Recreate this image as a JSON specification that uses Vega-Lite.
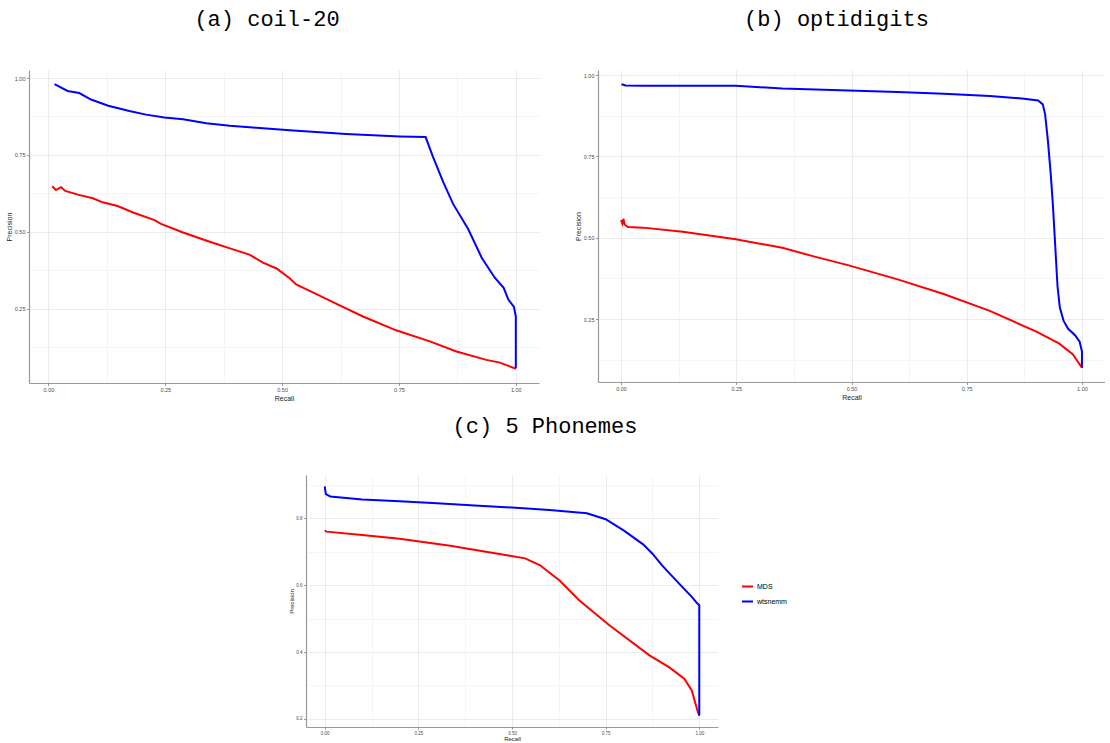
{
  "$schema": "https://vega.github.io/schema/vega-lite/v6.json",
  "background": "white",
  "padding": {"left": 5, "top": 8, "right": 0, "bottom": 0},
  "config": {
    "view": {"stroke": null},
    "title": {"font": "Liberation Mono", "fontSize": 22, "fontWeight": "normal", "color": "#000000", "offset": 39, "baseline": "alphabetic"},
    "axis": {
      "domainColor": "#9a9a9a", "domainWidth": 1.2, "tickColor": "#9a9a9a", "tickSize": 2.5,
      "labelPadding": 1.5, "labelFont": "Liberation Sans", "labelFontSize": 5.5, "labelColor": "#4d4d4d",
      "titleFont": "Liberation Sans", "titleFontSize": 7, "titleFontWeight": "normal", "titleColor": "#222222",
      "titlePadding": 2, "gridColor": "#ebebeb", "labelFlush": false, "labelOverlap": false
    }
  },
  "datasets": {
    "a": [
      {"method": "MDS", "recall": 0.008, "precision": 0.648},
      {"method": "MDS", "recall": 0.016, "precision": 0.636},
      {"method": "MDS", "recall": 0.027, "precision": 0.645},
      {"method": "MDS", "recall": 0.036, "precision": 0.633},
      {"method": "MDS", "recall": 0.063, "precision": 0.621},
      {"method": "MDS", "recall": 0.095, "precision": 0.609},
      {"method": "MDS", "recall": 0.116, "precision": 0.596},
      {"method": "MDS", "recall": 0.148, "precision": 0.584},
      {"method": "MDS", "recall": 0.181, "precision": 0.563},
      {"method": "MDS", "recall": 0.227, "precision": 0.538},
      {"method": "MDS", "recall": 0.241, "precision": 0.526},
      {"method": "MDS", "recall": 0.288, "precision": 0.498},
      {"method": "MDS", "recall": 0.345, "precision": 0.468},
      {"method": "MDS", "recall": 0.395, "precision": 0.443},
      {"method": "MDS", "recall": 0.430, "precision": 0.426},
      {"method": "MDS", "recall": 0.459, "precision": 0.400},
      {"method": "MDS", "recall": 0.488, "precision": 0.381},
      {"method": "MDS", "recall": 0.516, "precision": 0.349},
      {"method": "MDS", "recall": 0.530, "precision": 0.329},
      {"method": "MDS", "recall": 0.580, "precision": 0.293},
      {"method": "MDS", "recall": 0.612, "precision": 0.269},
      {"method": "MDS", "recall": 0.673, "precision": 0.225},
      {"method": "MDS", "recall": 0.744, "precision": 0.180},
      {"method": "MDS", "recall": 0.816, "precision": 0.144},
      {"method": "MDS", "recall": 0.873, "precision": 0.111},
      {"method": "MDS", "recall": 0.937, "precision": 0.084},
      {"method": "MDS", "recall": 0.966, "precision": 0.075},
      {"method": "MDS", "recall": 1.0, "precision": 0.055},
      {"method": "wtsnemm", "recall": 0.013, "precision": 0.980},
      {"method": "wtsnemm", "recall": 0.041, "precision": 0.958},
      {"method": "wtsnemm", "recall": 0.066, "precision": 0.951},
      {"method": "wtsnemm", "recall": 0.091, "precision": 0.930},
      {"method": "wtsnemm", "recall": 0.128, "precision": 0.910},
      {"method": "wtsnemm", "recall": 0.173, "precision": 0.893},
      {"method": "wtsnemm", "recall": 0.209, "precision": 0.881},
      {"method": "wtsnemm", "recall": 0.248, "precision": 0.872},
      {"method": "wtsnemm", "recall": 0.288, "precision": 0.866},
      {"method": "wtsnemm", "recall": 0.338, "precision": 0.853},
      {"method": "wtsnemm", "recall": 0.388, "precision": 0.845},
      {"method": "wtsnemm", "recall": 0.445, "precision": 0.838},
      {"method": "wtsnemm", "recall": 0.516, "precision": 0.830},
      {"method": "wtsnemm", "recall": 0.637, "precision": 0.818},
      {"method": "wtsnemm", "recall": 0.752, "precision": 0.810},
      {"method": "wtsnemm", "recall": 0.807, "precision": 0.808},
      {"method": "wtsnemm", "recall": 0.823, "precision": 0.743},
      {"method": "wtsnemm", "recall": 0.845, "precision": 0.661},
      {"method": "wtsnemm", "recall": 0.866, "precision": 0.590},
      {"method": "wtsnemm", "recall": 0.898, "precision": 0.509},
      {"method": "wtsnemm", "recall": 0.927, "precision": 0.416},
      {"method": "wtsnemm", "recall": 0.955, "precision": 0.351},
      {"method": "wtsnemm", "recall": 0.974, "precision": 0.318},
      {"method": "wtsnemm", "recall": 0.984, "precision": 0.280},
      {"method": "wtsnemm", "recall": 0.996, "precision": 0.256},
      {"method": "wtsnemm", "recall": 1.0, "precision": 0.225},
      {"method": "wtsnemm", "recall": 1.0, "precision": 0.193},
      {"method": "wtsnemm", "recall": 1.0, "precision": 0.057}
    ],
    "b": [
      {"method": "MDS", "recall": 0.0, "precision": 0.554},
      {"method": "MDS", "recall": 0.003, "precision": 0.543},
      {"method": "MDS", "recall": 0.005, "precision": 0.558},
      {"method": "MDS", "recall": 0.008, "precision": 0.540},
      {"method": "MDS", "recall": 0.015, "precision": 0.533},
      {"method": "MDS", "recall": 0.048, "precision": 0.531},
      {"method": "MDS", "recall": 0.134, "precision": 0.518},
      {"method": "MDS", "recall": 0.249, "precision": 0.495},
      {"method": "MDS", "recall": 0.350, "precision": 0.469},
      {"method": "MDS", "recall": 0.422, "precision": 0.441},
      {"method": "MDS", "recall": 0.494, "precision": 0.415},
      {"method": "MDS", "recall": 0.600, "precision": 0.372},
      {"method": "MDS", "recall": 0.700, "precision": 0.327},
      {"method": "MDS", "recall": 0.800, "precision": 0.275},
      {"method": "MDS", "recall": 0.900, "precision": 0.212},
      {"method": "MDS", "recall": 0.950, "precision": 0.175},
      {"method": "MDS", "recall": 0.980, "precision": 0.142},
      {"method": "MDS", "recall": 1.0, "precision": 0.100},
      {"method": "wtsnemm", "recall": 0.001, "precision": 0.972},
      {"method": "wtsnemm", "recall": 0.010, "precision": 0.968},
      {"method": "wtsnemm", "recall": 0.048, "precision": 0.967},
      {"method": "wtsnemm", "recall": 0.249, "precision": 0.967},
      {"method": "wtsnemm", "recall": 0.350, "precision": 0.959},
      {"method": "wtsnemm", "recall": 0.494, "precision": 0.953},
      {"method": "wtsnemm", "recall": 0.600, "precision": 0.948},
      {"method": "wtsnemm", "recall": 0.700, "precision": 0.943},
      {"method": "wtsnemm", "recall": 0.800, "precision": 0.936},
      {"method": "wtsnemm", "recall": 0.870, "precision": 0.928},
      {"method": "wtsnemm", "recall": 0.905, "precision": 0.922},
      {"method": "wtsnemm", "recall": 0.915, "precision": 0.910},
      {"method": "wtsnemm", "recall": 0.920, "precision": 0.880},
      {"method": "wtsnemm", "recall": 0.926, "precision": 0.800},
      {"method": "wtsnemm", "recall": 0.932, "precision": 0.700},
      {"method": "wtsnemm", "recall": 0.937, "precision": 0.600},
      {"method": "wtsnemm", "recall": 0.943, "precision": 0.450},
      {"method": "wtsnemm", "recall": 0.947, "precision": 0.350},
      {"method": "wtsnemm", "recall": 0.952, "precision": 0.285},
      {"method": "wtsnemm", "recall": 0.960, "precision": 0.245},
      {"method": "wtsnemm", "recall": 0.970, "precision": 0.220},
      {"method": "wtsnemm", "recall": 0.985, "precision": 0.200},
      {"method": "wtsnemm", "recall": 0.995, "precision": 0.180},
      {"method": "wtsnemm", "recall": 1.0, "precision": 0.150},
      {"method": "wtsnemm", "recall": 1.0, "precision": 0.100}
    ],
    "c": [
      {"method": "MDS", "recall": 0.0, "precision": 0.763},
      {"method": "MDS", "recall": 0.005, "precision": 0.760},
      {"method": "MDS", "recall": 0.100, "precision": 0.750},
      {"method": "MDS", "recall": 0.200, "precision": 0.739},
      {"method": "MDS", "recall": 0.335, "precision": 0.718},
      {"method": "MDS", "recall": 0.494, "precision": 0.688},
      {"method": "MDS", "recall": 0.535, "precision": 0.680},
      {"method": "MDS", "recall": 0.574, "precision": 0.660},
      {"method": "MDS", "recall": 0.627, "precision": 0.614},
      {"method": "MDS", "recall": 0.680, "precision": 0.554},
      {"method": "MDS", "recall": 0.760, "precision": 0.480},
      {"method": "MDS", "recall": 0.867, "precision": 0.390},
      {"method": "MDS", "recall": 0.920, "precision": 0.354},
      {"method": "MDS", "recall": 0.960, "precision": 0.320},
      {"method": "MDS", "recall": 0.980, "precision": 0.285},
      {"method": "MDS", "recall": 0.995, "precision": 0.225},
      {"method": "MDS", "recall": 1.0, "precision": 0.210},
      {"method": "wtsnemm", "recall": 0.0, "precision": 0.895},
      {"method": "wtsnemm", "recall": 0.003, "precision": 0.872},
      {"method": "wtsnemm", "recall": 0.015, "precision": 0.865},
      {"method": "wtsnemm", "recall": 0.100, "precision": 0.856},
      {"method": "wtsnemm", "recall": 0.200, "precision": 0.851},
      {"method": "wtsnemm", "recall": 0.300, "precision": 0.845},
      {"method": "wtsnemm", "recall": 0.400, "precision": 0.838},
      {"method": "wtsnemm", "recall": 0.500, "precision": 0.832},
      {"method": "wtsnemm", "recall": 0.600, "precision": 0.825},
      {"method": "wtsnemm", "recall": 0.700, "precision": 0.815},
      {"method": "wtsnemm", "recall": 0.750, "precision": 0.797},
      {"method": "wtsnemm", "recall": 0.800, "precision": 0.762},
      {"method": "wtsnemm", "recall": 0.850, "precision": 0.722},
      {"method": "wtsnemm", "recall": 0.875, "precision": 0.694},
      {"method": "wtsnemm", "recall": 0.900, "precision": 0.660},
      {"method": "wtsnemm", "recall": 0.950, "precision": 0.600},
      {"method": "wtsnemm", "recall": 0.980, "precision": 0.565},
      {"method": "wtsnemm", "recall": 0.995, "precision": 0.545},
      {"method": "wtsnemm", "recall": 1.0, "precision": 0.540},
      {"method": "wtsnemm", "recall": 1.0, "precision": 0.400},
      {"method": "wtsnemm", "recall": 1.0, "precision": 0.210}
    ]
  },
  "spacing": 13,
  "center": true,
  "resolve": {"scale": {"color": "independent"}, "legend": {"color": "independent"}},
  "vconcat": [
    {
      "spacing": 35,
      "resolve": {"scale": {"color": "independent"}, "legend": {"color": "independent"}},
      "hconcat": [
        {
          "title": {"text": "(a) coil-20", "dx": -17},
          "width": 510, "height": 313,
          "data": {"name": "a"},
          "mark": {"type": "line", "strokeWidth": 2},
          "encoding": {
            "x": {"field": "recall", "type": "quantitative",
              "scale": {"domain": [-0.0416, 1.0496], "nice": false, "zero": false},
              "axis": {"title": "Recall", "values": [0, 0.125, 0.25, 0.375, 0.5, 0.625, 0.75, 0.875, 1],
                "labelExpr": "round(datum.value*8) % 2 == 1 ? '' : format(datum.value, '.2f')",
                "gridWidth": {"condition": {"test": "round(datum.value*8) % 2 == 1", "value": 0.5}, "value": 1},
                "tickOpacity": {"condition": {"test": "round(datum.value*8) % 2 == 1", "value": 0}, "value": 1}}},
            "y": {"field": "precision", "type": "quantitative",
              "scale": {"domain": [0.0088, 1.026], "nice": false, "zero": false},
              "axis": {"title": "Precision", "values": [0.125, 0.25, 0.375, 0.5, 0.625, 0.75, 0.875, 1],
                "labelExpr": "round(datum.value*8) % 2 == 1 ? '' : format(datum.value, '.2f')",
                "gridWidth": {"condition": {"test": "round(datum.value*8) % 2 == 1", "value": 0.5}, "value": 1},
                "tickOpacity": {"condition": {"test": "round(datum.value*8) % 2 == 1", "value": 0}, "value": 1}}},
            "color": {"field": "method", "type": "nominal",
              "scale": {"domain": ["MDS", "wtsnemm"], "range": ["#ff0000", "#0000ff"]}, "legend": null},
            "order": {"value": null}
          }
        },
        {
          "title": {"text": "(b) optidigits", "dx": -15},
          "width": 507, "height": 312,
          "data": {"name": "b"},
          "mark": {"type": "line", "strokeWidth": 2},
          "encoding": {
            "x": {"field": "recall", "type": "quantitative",
              "scale": {"domain": [-0.05, 1.05], "nice": false, "zero": false},
              "axis": {"title": "Recall", "values": [0, 0.125, 0.25, 0.375, 0.5, 0.625, 0.75, 0.875, 1],
                "labelExpr": "round(datum.value*8) % 2 == 1 ? '' : format(datum.value, '.2f')",
                "gridWidth": {"condition": {"test": "round(datum.value*8) % 2 == 1", "value": 0.5}, "value": 1},
                "tickOpacity": {"condition": {"test": "round(datum.value*8) % 2 == 1", "value": 0}, "value": 1}}},
            "y": {"field": "precision", "type": "quantitative",
              "scale": {"domain": [0.0563, 1.0157], "nice": false, "zero": false},
              "axis": {"title": "Precision", "values": [0.125, 0.25, 0.375, 0.5, 0.625, 0.75, 0.875, 1],
                "labelExpr": "round(datum.value*8) % 2 == 1 ? '' : format(datum.value, '.2f')",
                "gridWidth": {"condition": {"test": "round(datum.value*8) % 2 == 1", "value": 0.5}, "value": 1},
                "tickOpacity": {"condition": {"test": "round(datum.value*8) % 2 == 1", "value": 0}, "value": 1}}},
            "color": {"field": "method", "type": "nominal",
              "scale": {"domain": ["MDS", "wtsnemm"], "range": ["#ff0000", "#0000ff"]}, "legend": null},
            "order": {"value": null}
          }
        }
      ]
    },
    {
      "title": {"text": "(c) 5 Phonemes", "dx": 33, "offset": 37},
      "width": 412, "height": 252,
      "data": {"name": "c"},
      "mark": {"type": "line", "strokeWidth": 2},
      "encoding": {
        "x": {"field": "recall", "type": "quantitative",
          "scale": {"domain": [-0.05, 1.05], "nice": false, "zero": false},
          "axis": {"title": "Recall", "values": [0, 0.125, 0.25, 0.375, 0.5, 0.625, 0.75, 0.875, 1],
            "labelFontSize": 4.5, "titleFontSize": 6, "titlePadding": 0.5, "tickSize": 2, "labelPadding": 1,
            "labelExpr": "round(datum.value*8) % 2 == 1 ? '' : format(datum.value, '.2f')",
            "gridWidth": {"condition": {"test": "round(datum.value*8) % 2 == 1", "value": 0.5}, "value": 1},
            "tickOpacity": {"condition": {"test": "round(datum.value*8) % 2 == 1", "value": 0}, "value": 1}}},
        "y": {"field": "precision", "type": "quantitative",
          "scale": {"domain": [0.1758, 0.9293], "nice": false, "zero": false},
          "axis": {"title": "Precision", "values": [0.2, 0.3, 0.4, 0.5, 0.6, 0.7, 0.8, 0.9],
            "labelFontSize": 4.5, "titleFontSize": 6, "titlePadding": 1.5,
            "labelExpr": "round(datum.value*10) % 2 == 1 ? '' : format(datum.value, '.1f')",
            "gridWidth": {"condition": {"test": "round(datum.value*10) % 2 == 1", "value": 0.5}, "value": 1},
            "tickOpacity": {"condition": {"test": "round(datum.value*10) % 2 == 1", "value": 0}, "value": 1}}},
        "color": {"field": "method", "type": "nominal",
          "scale": {"domain": ["MDS", "wtsnemm"], "range": ["#ff0000", "#0000ff"]},
          "legend": {"title": null, "orient": "none", "direction": "vertical", "legendX": 394, "legendY": 64, "padding": 41,
            "labelFont": "Liberation Sans", "labelFontSize": 7, "labelColor": "#000000", "symbolType": "stroke",
            "symbolStrokeWidth": 2, "symbolSize": 120, "rowPadding": 4, "labelOffset": 3}},
        "order": {"value": null}
      }
    }
  ]
}
